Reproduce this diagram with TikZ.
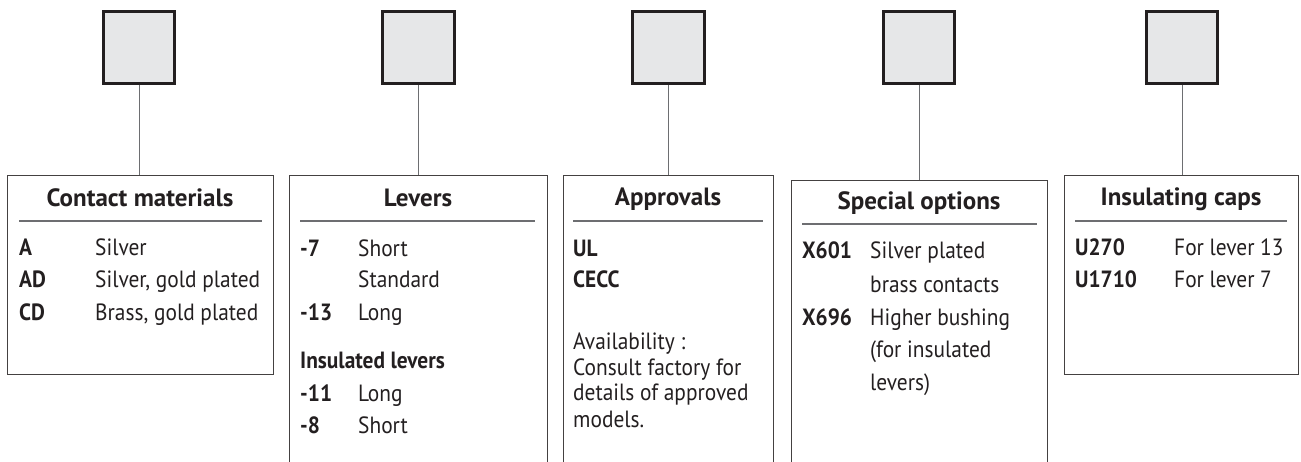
\documentclass[tikz,border=0pt]{standalone}
\usepackage{fontspec}
\setmainfont{PT Sans}
\newfontfamily\bodyfont{PT Sans}[FakeStretch=0.91]
\definecolor{ink}{HTML}{231F20}
\definecolor{fillgray}{HTML}{E6E7E8}
\definecolor{wire}{HTML}{6D6E71}

\begin{document}
\begin{tikzpicture}[x=1pt,y=-1pt,
	sq/.style={draw=ink,line width=3pt,fill=fillgray,minimum width=71.5pt,minimum height=72pt,inner sep=0pt},
	frame/.style={draw=ink!85,line width=1.1pt,anchor=north west,inner sep=0pt},
	hd/.style={text=ink,font=\bfseries\fontsize{25}{30}\selectfont,anchor=base,inner sep=0pt},
	cd/.style={text=ink,font=\bodyfont\bfseries\fontsize{23.5}{28}\selectfont,anchor=base west,inner sep=0pt},
	tx/.style={text=ink,font=\bodyfont\fontsize{23.5}{28}\selectfont,anchor=base west,inner sep=0pt},
	rule/.style={draw=wire,line width=1.1pt},
	link/.style={draw=wire,line width=1pt}]
			\useasboundingbox (0,0) rectangle (1301,461);
			\node[frame,minimum width=266pt,minimum height=199pt] (cm) at (7,175) {};
			\node[frame,minimum width=258pt,minimum height=300pt] (lv) at (289,175) {};
			\node[frame,minimum width=210pt,minimum height=300pt] (ap) at (563,175) {};
			\node[frame,minimum width=256pt,minimum height=295pt] (so) at (791,180) {};
			\node[frame,minimum width=234pt,minimum height=199pt] (ic) at (1064,175) {};
			\node[sq] (s1) at (139,47.5) {};
			\node[sq] (s2) at (418.5,47.5) {};
			\node[sq] (s3) at (668.5,47.5) {};
			\node[sq] (s4) at (919,47.5) {};
			\node[sq] (s5) at (1182,47.5) {};
			\draw[link] (s1.south) to (s1.south |- cm.north);
			\draw[link] (s2.south) to (s2.south |- lv.north);
			\draw[link] (s3.south) to (s3.south |- ap.north);
			\draw[link] (s4.south) to (s4.south |- so.north);
			\draw[link] (s5.south) to (s5.south |- ic.north);
			\node[hd] (cmt) at (140,206) {Contact materials};
			\node[hd] (lvt) at (418,206) {Levers};
			\node[hd] (apt) at (668,205) {Approvals};
			\node[hd] (sot) at (919,209) {Special options};
			\node[hd] (ict) at (1181,205) {Insulating caps};
			\draw[rule] (19,221) -- (262,221);
			\draw[rule] (300,221) -- (535,221);
			\draw[rule] (573,221) -- (763,221);
			\draw[rule] (802,224) -- (1037,224);
			\draw[rule] (1075,221) -- (1287,221);
			\node[cd] (cm1) at (19,255) {A};
			\node[tx] (cm1d) at (95,255) {Silver};
			\node[cd] (cm2) at (19,287) {AD};
			\node[tx] (cm2d) at (95,287) {Silver, gold plated};
			\node[cd] (cm3) at (19,320) {CD};
			\node[tx] (cm3d) at (95,320) {Brass, gold plated};
			\node[cd] (lv1) at (300,256) {-7};
			\node[tx] (lv1d) at (358,256) {Short};
			\node[tx] (lv2d) at (358,287) {Standard};
			\node[cd] (lv3) at (300,320) {-13};
			\node[tx] (lv3d) at (358,320) {Long};
			\node[cd] (lvi) at (300,368) {Insulated levers};
			\node[cd] (lv4) at (300,401) {-11};
			\node[tx] (lv4d) at (358,401) {Long};
			\node[cd] (lv5) at (300,433) {-8};
			\node[tx] (lv5d) at (358,433) {Short};
			\node[cd] (ap1) at (573,256) {UL};
			\node[cd] (ap2) at (573,287) {CECC};
			\node[tx] (av1) at (573,349) {Availability :};
			\node[tx] (av2) at (573,375) {Consult factory for};
			\node[tx] (av3) at (573,400) {details of approved};
			\node[tx] (av4) at (573,427) {models.};
			\node[cd] (so1) at (802,258) {X601};
			\node[tx] (so1d) at (870,258) {Silver plated};
			\node[tx] (so1e) at (870,292) {brass contacts};
			\node[cd] (so2) at (802,325) {X696};
			\node[tx] (so2d) at (870,325) {Higher bushing};
			\node[tx] (so2e) at (870,357) {(for insulated};
			\node[tx] (so2f) at (870,390) {levers)};
			\node[cd] (ic1) at (1075,255) {U270};
			\node[tx] (ic1d) at (1174,255) {For lever 13};
			\node[cd] (ic2) at (1075,287) {U1710};
			\node[tx] (ic2d) at (1174,287) {For lever 7};
		\end{tikzpicture}
\end{document}
